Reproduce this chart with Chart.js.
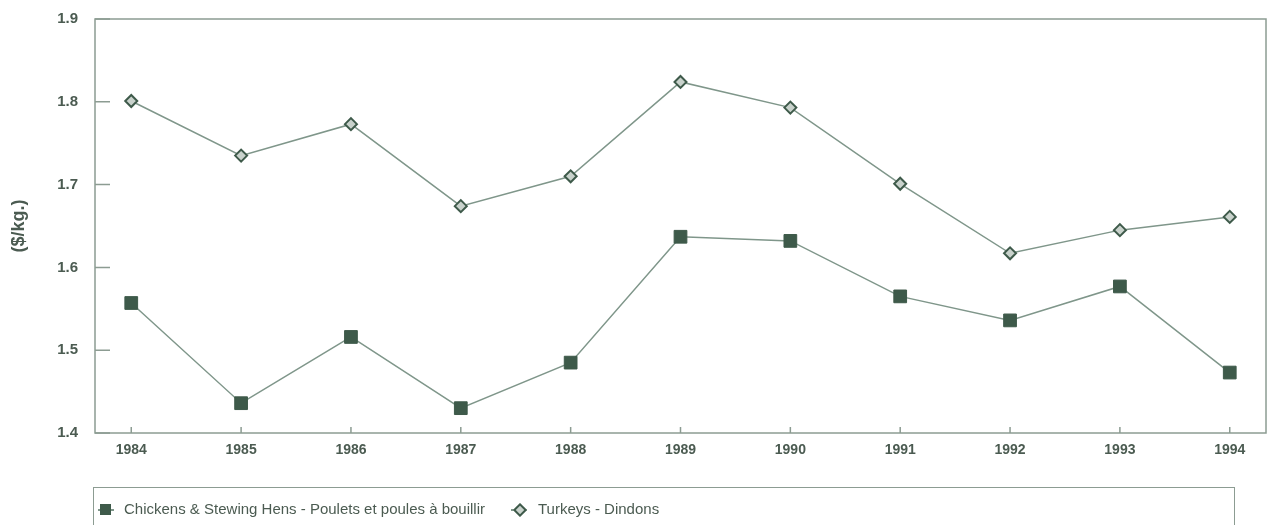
<!DOCTYPE html>
<html>
<head>
<meta charset="utf-8">
<script src="https://cdn.jsdelivr.net/npm/chart.js@4/dist/chart.umd.min.js"></script>
<style>
  html, body { margin: 0; padding: 0; background: #ffffff; }
  #wrap { width: 1271px; height: 525px; position: relative; overflow: hidden; }
  #chartCanvas { position: absolute; left: 0; top: 0; }
  #legendBox {
    position: absolute; left: 93px; top: 487px; width: 1142px; height: 60px;
    border: 1.5px solid #8c9c92; box-sizing: border-box;
    font-family: 'Liberation Sans', Arial, sans-serif; font-size: 15px; color: #4b5b51;
  }
  .item { position: absolute; top: 12px; white-space: nowrap; line-height: 18px; }
  .sym { width: 16px; height: 18px; }
  .sym .ln { position: absolute; left: 0; right: 0; top: 9px; height: 1.5px; background: #7f968a; }
  .sym .sq { position: absolute; left: 2px; top: 4px; width: 11px; height: 11px; background: #3e5a4a; }
  .sym .dm { position: absolute; left: 4px; top: 5px; width: 6px; height: 6px; background: #c9d2cc;
             border: 2px solid #3e5a4a; transform: rotate(45deg); }
</style>
</head>
<body>
<div id="wrap">
  <canvas id="chartCanvas" width="1271" height="525"></canvas>
  <div id="legendBox"></div>
</div>
<script>
// Data
const years = [1984, 1985, 1986, 1987, 1988, 1989, 1990, 1991, 1992, 1993, 1994];
const chickens = [1.557, 1.436, 1.516, 1.430, 1.485, 1.637, 1.632, 1.565, 1.536, 1.577, 1.473];
const turkeys = [1.801, 1.735, 1.773, 1.674, 1.710, 1.824, 1.793, 1.701, 1.617, 1.645, 1.661];
const yTicks = [1.4, 1.5, 1.6, 1.7, 1.8, 1.9];
const seriesNames = ['Chickens & Stewing Hens - Poulets et poules à bouillir', 'Turkeys - Dindons'];

const lineColor = '#7f968a';
const markColor = '#3e5a4a';
const textColor = '#4b5b51';
const frameColor = '#8c9c92';
const fontFamily = 'Liberation Sans, Arial, sans-serif';

// Frame around the plot and the inner tick marks
const framePlugin = {
  id: 'frame',
  afterDraw(chart) {
    const ctx = chart.ctx;
    const a = chart.chartArea;
    const xs = chart.scales.x;
    const ys = chart.scales.y;
    ctx.save();
    ctx.strokeStyle = frameColor;
    ctx.lineWidth = 1.5;
    ctx.strokeRect(a.left, a.top, a.right - a.left, a.bottom - a.top);
    ctx.beginPath();
    yTicks.forEach(v => {
      const py = ys.getPixelForValue(v);
      ctx.moveTo(a.left, py);
      ctx.lineTo(a.left + 15, py);
    });
    years.forEach(v => {
      const px = xs.getPixelForValue(v);
      ctx.moveTo(px, a.bottom);
      ctx.lineTo(px, a.bottom - 6);
    });
    ctx.stroke();
    ctx.restore();
  }
};

const chartConfig = {
  type: 'line',
  data: {
    datasets: [
      {
        label: seriesNames[0],
        data: years.map((y, i) => ({ x: y, y: chickens[i] })),
        borderColor: lineColor,
        borderWidth: 1.5,
        pointStyle: 'rect',
        pointRadius: 9,
        pointBackgroundColor: markColor,
        pointBorderColor: markColor,
        pointBorderWidth: 1
      },
      {
        label: seriesNames[1],
        data: years.map((y, i) => ({ x: y, y: turkeys[i] })),
        borderColor: lineColor,
        borderWidth: 1.5,
        pointStyle: 'rectRot',
        pointRadius: 6,
        pointBackgroundColor: '#c9d2cc',
        pointBorderColor: markColor,
        pointBorderWidth: 2
      }
    ]
  },
  options: {
    responsive: false,
    animation: false,
    layout: { autoPadding: false, padding: { top: 19, right: 5, left: 0, bottom: 62 } },
    plugins: {
      tooltip: { enabled: false },
      legend: { display: false }
    },
    scales: {
      x: {
        type: 'linear',
        min: 1983.67,
        max: 1994.33,
        afterBuildTicks: (scale) => { scale.ticks = years.map(v => ({ value: v })); },
        afterFit: (scale) => { scale.height = 30; scale.paddingLeft = 0; scale.paddingRight = 0; },
        grid: { display: false },
        border: { display: false },
        ticks: {
          color: textColor,
          padding: 1,
          maxRotation: 0,
          font: { family: fontFamily, size: 14, weight: 'bold' },
          callback: (v) => String(v)
        }
      },
      y: {
        type: 'linear',
        min: 1.4,
        max: 1.9,
        afterBuildTicks: (scale) => { scale.ticks = yTicks.map(v => ({ value: v })); },
        afterFit: (scale) => { scale.width = 95; scale.paddingTop = 0; scale.paddingBottom = 0; },
        grid: { display: false },
        border: { display: false },
        title: {
          display: true,
          text: '($/kg.)',
          color: textColor,
          padding: { top: 8, bottom: 0 },
          font: { family: fontFamily, size: 18, weight: 'bold' }
        },
        ticks: {
          color: textColor,
          padding: 9,
          font: { family: fontFamily, size: 15, weight: 'bold' },
          callback: (v) => v.toFixed(1)
        }
      }
    }
  },
  plugins: [framePlugin]
};

const chartCanvas = document.getElementById('chartCanvas');
const projectileChart = new Chart(chartCanvas.getContext('2d'), chartConfig);

// Legend in a bordered box under the chart
const legendBox = document.getElementById('legendBox');
const legendPos = [[4, 30], [417, 444]]; // symbol left, text left (inside the box)
const legendSym = ['sq', 'dm'];
seriesNames.forEach((name, i) => {
  const sym = document.createElement('div');
  sym.className = 'item sym';
  sym.style.left = legendPos[i][0] + 'px';
  sym.innerHTML = '<div class="ln"></div><div class="' + legendSym[i] + '"></div>';
  legendBox.appendChild(sym);
  const txt = document.createElement('div');
  txt.className = 'item';
  txt.style.left = legendPos[i][1] + 'px';
  txt.textContent = name;
  legendBox.appendChild(txt);
});
</script>
</body>
</html>
